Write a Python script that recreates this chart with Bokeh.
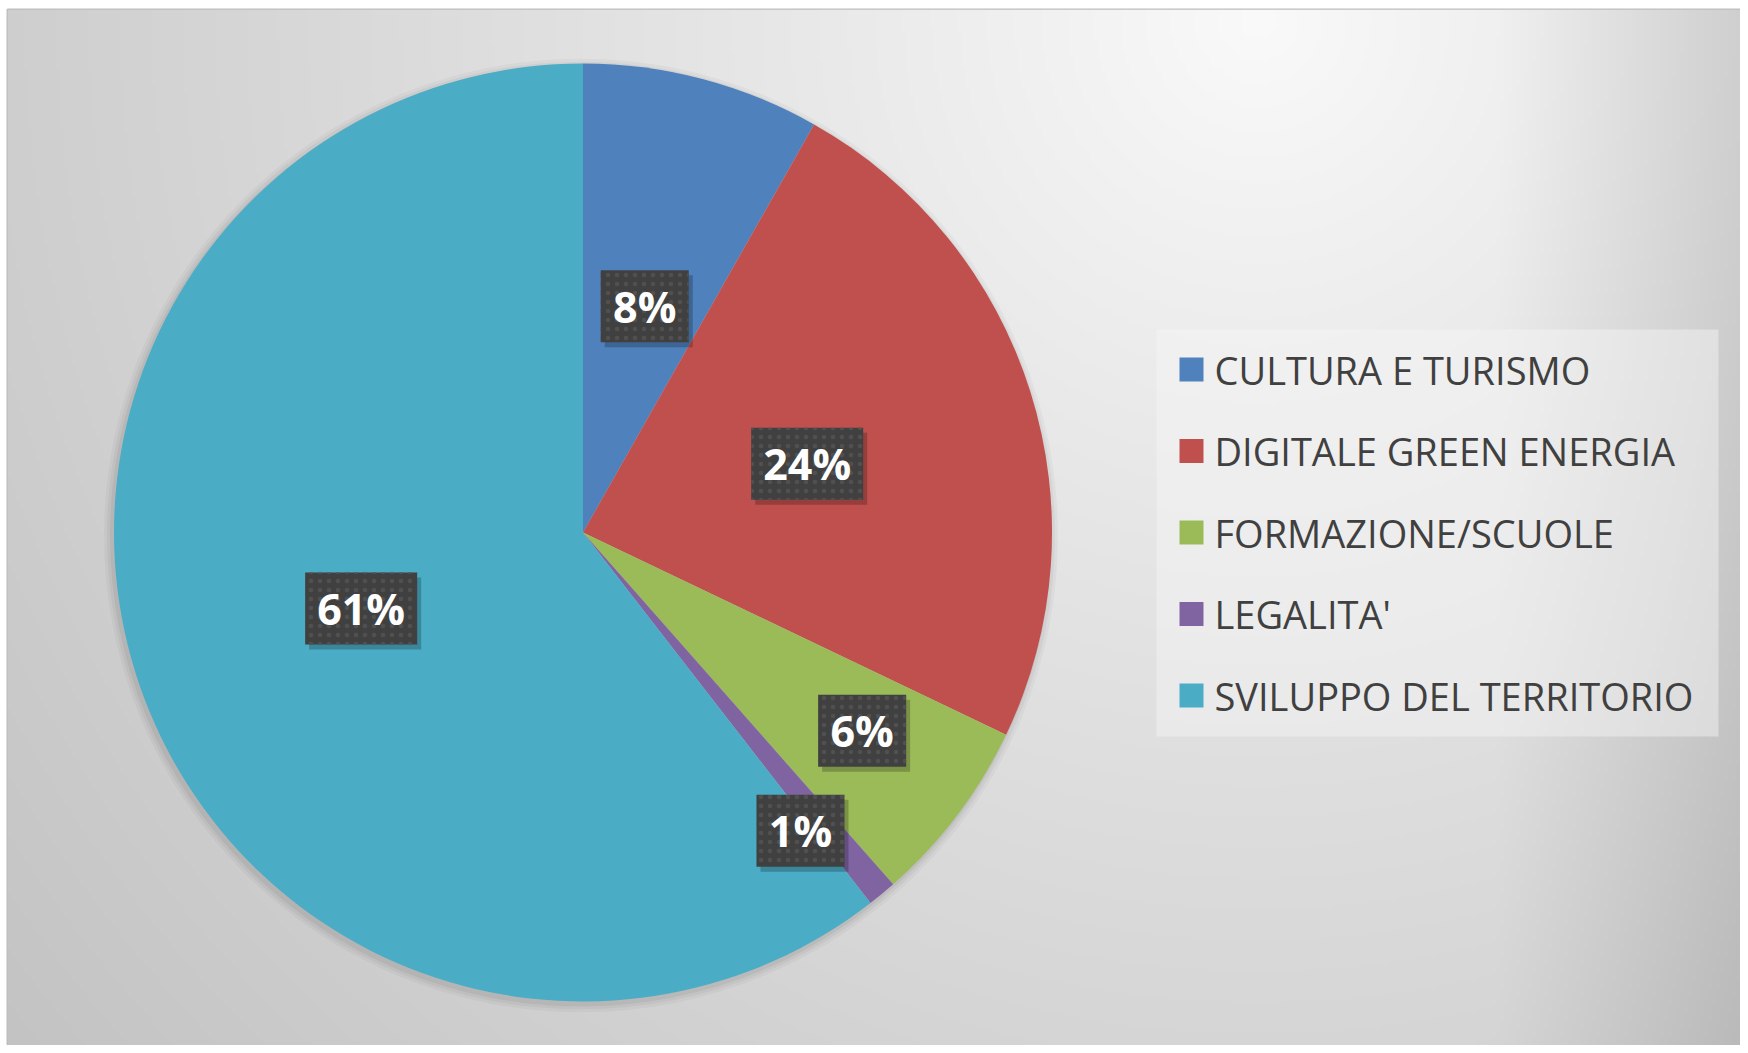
import numpy as np
from bokeh.plotting import figure
from bokeh.models import ColumnDataSource, Range1d
from bokeh.core.properties import value
from bokeh.embed import file_html
from bokeh.resources import INLINE

# ---- data ----
categories = ["CULTURA E TURISMO", "DIGITALE GREEN ENERGIA", "FORMAZIONE/SCUOLE",
              "LEGALITA'", "SVILUPPO DEL TERRITORIO"]
shares = [8.2, 23.9, 6.4, 1.0, 60.5]
pct_labels = ["8%", "24%", "6%", "1%", "61%"]

# ---- styles ----
colors = ["#4F81BD", "#C0504D", "#9BBB59", "#8064A2", "#4BACC6"]
label_r = [0.5, 0.5, 0.73, 0.787, 0.5]      # label distance, fraction of radius
label_dang = [0.5, 0.4, -1.7, 3.5, 0.0]     # clockwise nudge of label, degrees

W, H = 1740, 1045
BL, BT = 7, 9
REF_H = 1053
X0, X1 = BL, W
Y0, Y1 = REF_H - H, REF_H - BT

cx, cy, R = 582.5, REF_H - 532, 469

p = figure(width=W, height=H, output_backend="svg", toolbar_location=None,
           x_range=Range1d(X0, X1), y_range=Range1d(Y0, Y1),
           min_border_left=BL, min_border_top=BT, min_border_right=0,
           min_border_bottom=0)
p.axis.visible = False
p.grid.visible = False
p.outline_line_color = "#bdbdbd"
p.outline_line_width = 2
p.background_fill_color = "#e0e0e0"
p.border_fill_color = "white"

# ---- background radial gradient ----
step = 4
xs = np.arange(X0, X1, step) + step / 2
ys = np.arange(Y0, Y1, step) + step / 2
XX, YY = np.meshgrid(xs, ys)
ref_y = REF_H - YY
d = np.hypot(XX - 1260, ref_y - 20)
v = 250 - 45 * (d / 1300) ** 0.9 - 25 * np.clip((XX - 1500) / 250, 0, 1)
v = np.clip(v, 0, 255).astype(np.uint8)
img = np.empty(v.shape, dtype=np.uint32)
view = img.view(dtype=np.uint8).reshape(v.shape + (4,))
view[..., 0] = v
view[..., 1] = v
view[..., 2] = v
view[..., 3] = 255
p.image_rgba(image=[img], x=X0, y=Y0, dw=X1 - X0, dh=Y1 - Y0)

# ---- pie ----
vals = np.array(shares, dtype=float)
tot = vals.sum()
cum = np.concatenate([[0], np.cumsum(vals)]) / tot
start = np.pi / 2 - 2 * np.pi * cum[:-1]
end = np.pi / 2 - 2 * np.pi * cum[1:]
mid = (start + end) / 2 - np.radians(label_dang)
lr = np.array(label_r) * R
lx = cx + lr * np.cos(mid)
ly = cy + lr * np.sin(mid)

# legend layout (in the reference's pixel frame)
leg_left, leg_top, leg_right, leg_bottom = 1156, 329, 1718, 736
row0, row_step = 369, 81.5
idx = np.arange(len(categories))
row_y = REF_H - (row0 + row_step * idx)

src = ColumnDataSource(dict(
    cat=categories, start=start, end=end, color=colors,
    lx=lx, ly=ly, sx=lx + 4, sy=ly - 5,
    lab=pct_labels, bw=[40 + 24 * len(s) for s in pct_labels],
    gx=np.full(len(categories), 1191.0), tx=np.full(len(categories), 1214.0),
    ry=row_y,
))

# soft shadow of the pie
for k, a in [(8, 0.03), (5, 0.04), (2, 0.05)]:
    p.circle(x=[cx - 2], y=[cy - 3], radius=R + k, fill_color="black",
             fill_alpha=a, line_color=None)

p.wedge(x=cx, y=cy, radius=R, start_angle="start", end_angle="end",
        direction="clock", fill_color="color", line_color=None, source=src)

# ---- data label boxes ----
p.rect(x="sx", y="sy", width="bw", height=72, width_units="screen",
       height_units="screen", fill_color="black", fill_alpha=0.22,
       line_color=None, source=src)
p.rect(x="lx", y="ly", width="bw", height=72, width_units="screen",
       height_units="screen", fill_color="#404040", line_color=None,
       hatch_pattern=".", hatch_color="#505050", hatch_scale=9,
       hatch_weight=1.2, source=src)
p.text(x="lx", y="ly", text="lab", text_align="center", text_baseline="middle",
       text_font=value("Open Sans"), text_font_style="bold",
       text_font_size="43px", text_color="white", source=src)

# ---- legend (drawn from the same categories / colours) ----
p.quad(left=[leg_left], right=[leg_right], top=[REF_H - leg_top],
       bottom=[REF_H - leg_bottom], fill_color="#f6f6f6", fill_alpha=0.45,
       line_color=None)
p.rect(x="gx", y="ry", width=24, height=24, width_units="screen",
       height_units="screen", fill_color="color", line_color=None, source=src)
p.text(x="tx", y="ry", text="cat", text_align="left", text_baseline="middle",
       text_font=value("Open Sans"), text_font_size="38px",
       text_color="#404040", source=src)

open("out.html", "w").write(file_html(p, INLINE))
